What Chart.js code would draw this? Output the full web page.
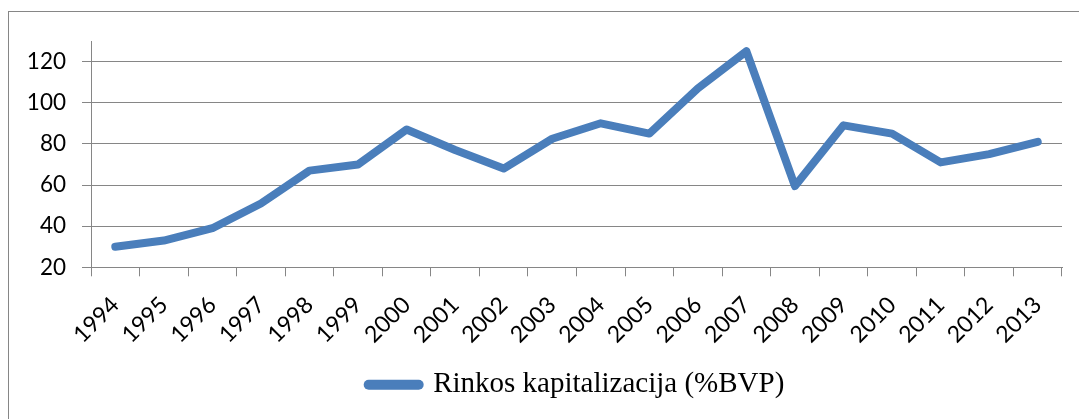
<!DOCTYPE html>
<html>
<head>
<meta charset="utf-8">
<script src="https://cdn.jsdelivr.net/npm/chart.js@4.4.1/dist/chart.umd.min.js"></script>
<style>
  html, body { margin: 0; padding: 0; background: #ffffff; overflow: hidden; }
  body { width: 1079px; height: 419px; position: relative; }
  #frame { position: absolute; left: 8px; top: 11px; width: 1200px; height: 500px; border: 1px solid #868686; box-sizing: border-box; }
  #wrap { position: absolute; left: 0; top: 0; width: 1079px; height: 419px; }
</style>
</head>
<body>
<div id="frame"></div>
<div id="wrap"><canvas id="c" width="1079" height="419"></canvas></div>
<script>
const years = ['1994','1995','1996','1997','1998','1999','2000','2001','2002','2003',
               '2004','2005','2006','2007','2008','2009','2010','2011','2012','2013'];
const marketCap = [30, 33, 39, 51, 67, 70, 87, 77, 68, 82.5,
                   90, 85, 107, 125, 59.5, 89, 85, 71, 75, 81];
const seriesLabel = 'Rinkos kapitalizacija (%BVP)';
const yTicks = [20, 40, 60, 80, 100, 120];
const yMin = 20, yMax = 130;

const gridGray = '#868686';
const lineBlue = '#4A7EBB';

new Chart(document.getElementById('c'), {
  type: 'line',
  data: {
    labels: years,
    datasets: [{
      label: seriesLabel,
      data: marketCap,
      borderColor: lineBlue,
      backgroundColor: lineBlue,
      borderWidth: 8,
      borderCapStyle: 'round',
      borderJoinStyle: 'round',
      pointRadius: 0,
      pointHoverRadius: 0,
      tension: 0,
      fill: false
    }]
  },
  options: {
    responsive: false,
    animation: false,
    events: [],
    layout: { padding: { top: 41, left: 0, right: 17, bottom: 9.7 } },
    scales: {
      x: {
        type: 'category',
        offset: true,
        grid: {
          offset: true,
          drawOnChartArea: false,
          drawTicks: true,
          tickLength: 9,
          color: gridGray,
          lineWidth: 1
        },
        border: { display: true, color: gridGray, width: 1 },
        ticks: {
          minRotation: 45,
          maxRotation: 45,
          autoSkip: false,
          padding: 15,
          color: '#000000',
          font: { family: 'Lato', size: 23 }
        },
        afterFit(axis) { axis.height = 93; }
      },
      y: {
        min: yMin,
        max: yMax,
        grid: {
          drawOnChartArea: true,
          drawTicks: true,
          tickLength: 9,
          color: gridGray,
          lineWidth: 1
        },
        border: { display: true, color: gridGray, width: 1 },
        ticks: {
          stepSize: 20,
          padding: 16,
          color: '#000000',
          font: { family: 'Lato', size: 22.5 }
        },
        afterBuildTicks(axis) {
          axis.ticks = yTicks.map(v => ({ value: v }));
        },
        afterFit(axis) { axis.width = 91; }
      }
    },
    plugins: {
      tooltip: { enabled: false },
      legend: {
        display: true,
        position: 'bottom',
        fullSize: false,
        labels: {
          usePointStyle: true,
          pointStyle: 'line',
          pointStyleWidth: 50,
          padding: 10,
          color: '#000000',
          font: { family: 'Liberation Serif', size: 29 },
          generateLabels(chart) {
            const items = Chart.defaults.plugins.legend.labels.generateLabels(chart);
            items.forEach(it => {
              it.lineWidth = 10;
              it.lineCap = 'round';
              it.pointStyle = 'line';
              it.strokeStyle = lineBlue;
              it.fillStyle = lineBlue;
            });
            return items;
          }
        }
      }
    }
  }
});
</script>
</body>
</html>
